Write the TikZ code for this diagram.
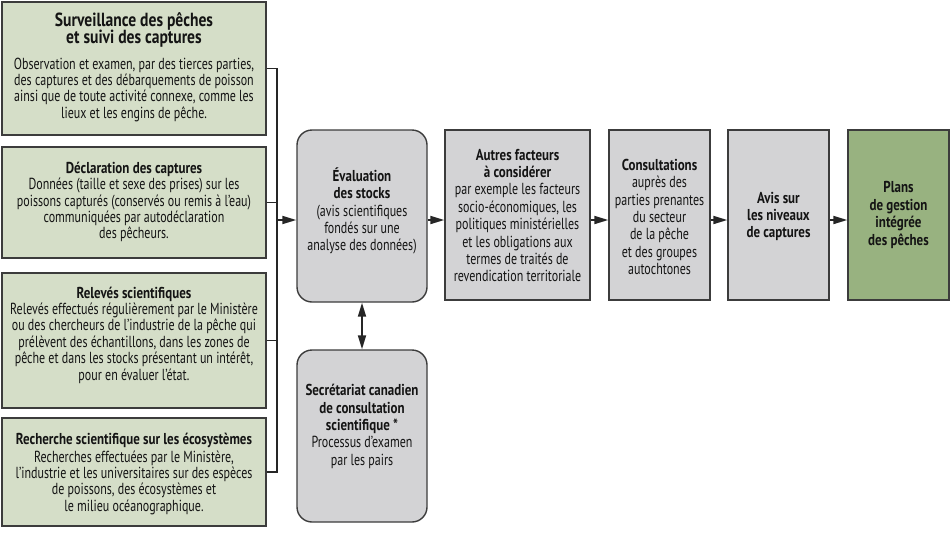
\documentclass[tikz,border=0pt]{standalone}
\usepackage{fontspec}
\setmainfont{PT Sans}[FakeStretch=0.75, BoldFeatures={FakeStretch=0.82}]
\usetikzlibrary{arrows.meta}
\definecolor{lgreen}{RGB}{213,222,200}
\definecolor{dgreen}{RGB}{152,178,128}
\definecolor{boxgray}{RGB}{211,211,213}
\definecolor{edge}{RGB}{60,60,60}
\definecolor{txt}{RGB}{20,20,20}
\newcommand{\ttlA}{\fontsize{19}{19}\selectfont\bfseries}
\newcommand{\ttlB}{\fontsize{15.8}{17.5}\selectfont\bfseries}
\begin{document}
\begin{tikzpicture}[x=1pt,y=-1pt,
  boxbase/.style={draw=edge, line width=1.4pt, inner sep=0pt},
  greenbox/.style={boxbase, fill=lgreen, minimum width=264},
  graybox/.style={boxbase, fill=boxgray},
  roundbox/.style={graybox, rounded corners=15pt, minimum width=130, minimum height=172},
  plainbox/.style={graybox, minimum height=170, minimum width=101},
  ltext/.style={align=center, inner sep=0pt, text=txt, font=\fontsize{16}{16.4}\selectfont},
  gtext/.style={align=center, inner sep=0pt, text=txt, font=\fontsize{16}{17.4}\selectfont},
  conn/.style={line width=1.8pt, draw=black!85},
  tip/.tip={Triangle[length=14pt,width=8pt]},
  arr/.style={conn, -tip},
  darr/.style={conn, tip-tip}]
\useasboundingbox (0,0) rectangle (950,539);

% boxes
\node[greenbox, minimum height=133] (b1) at (134,68.5) {};
\node[greenbox, minimum height=111] (b2) at (134,202.5) {};
\node[greenbox, minimum height=135] (b3) at (134,340.5) {};
\node[greenbox, minimum height=108] (b4) at (134,472) {};
\node[roundbox] (eval) at (362,216) {};
\node[roundbox] (sect) at (362,436) {};
\node[plainbox, minimum width=145] (autres) at (517.5,215) {};
\node[plainbox] (consult) at (659.5,215) {};
\node[plainbox] (avis) at (778.5,215) {};
\node[plainbox, fill=dgreen] (plans) at (898.5,215) {};

% texts
\node[ltext] (t1) at (134,67)
 {{\ttlA Surveillance des pêches}\\[-1pt]{\ttlA et suivi des captures}\\[9pt]
  Observation et examen, par des tierces parties,\\
  des captures et des débarquements de poisson\\
  ainsi que de toute activité connexe, comme les\\
  lieux et les engins de pêche.};
\node[ltext] (t2) at (134,202)
 {{\ttlB Déclaration des captures}\\
  Données (taille et sexe des prises) sur les\\
  poissons capturés (conservés ou remis à l’eau)\\
  communiquées par autodéclaration\\
  des pêcheurs.};
\node[ltext] (t3) at (134,335)
 {{\ttlB Relevés scientifiques}\\
  Relevés effectués régulièrement par le Ministère\\
  ou des chercheurs de l’industrie de la pêche qui\\
  prélèvent des échantillons, dans les zones de\\
  pêche et dans les stocks présentant un intérêt,\\
  pour en évaluer l’état.};
\node[ltext] (t4) at (134,474)
 {{\ttlB Recherche scientifique sur les écosystèmes}\\[1pt]
  Recherches effectuées par le Ministère,\\
  l’industrie et les universitaires sur des espèces\\
  de poissons, des écosystèmes et\\
  le milieu océanographique.};
\node[gtext] (te) at (362,211)
 {{\ttlB Évaluation}\\{\ttlB des stocks}\\
  (avis scientifiques\\fondés sur une\\analyse des données)};
\node[gtext] (ts) at (362,426.5)
 {{\ttlB Secrétariat canadien}\\{\ttlB de consultation}\\{\ttlB scientifique *}\\
  Processus d’examen\\par les pairs};
\node[gtext] (ta) at (517.5,215.5)
 {{\ttlB Autres facteurs}\\{\ttlB à considérer}\\
  par exemple les facteurs\\socio-économiques, les\\politiques ministérielles\\
  et les obligations aux\\termes de traités de\\revendication territoriale};
\node[gtext] (tc) at (659.5,217)
 {{\ttlB Consultations}\\auprès des\\parties prenantes\\du secteur\\de la pêche\\et des groupes\\autochtones};
\node[gtext] (tv) at (778.5,216.5)
 {{\ttlB Avis sur}\\{\ttlB les niveaux}\\{\ttlB de captures}};
\node[gtext] (tp) at (898.5,215)
 {{\ttlB Plans}\\{\ttlB de gestion}\\{\ttlB intégrée}\\{\ttlB des pêches}};

% connectors
\coordinate (j1) at (277,68.5);
\coordinate (j2) at (277,202.5);
\coordinate (j3) at (277,340.5);
\coordinate (j4) at (277,472);
\coordinate (jm) at (277,220);

\draw[conn] (b1.east) -- (j1) -- (j4) -- (b4.east);
\draw[conn] (b2.east) -- (j2);
\draw[conn] (b3.east) -- (j3);
\draw[arr] (jm) -- (jm -| eval.west);
\draw[arr] (eval.east |- jm) -- (jm -| autres.west);
\draw[arr] (autres.east |- jm) -- (jm -| consult.west);
\draw[arr] (consult.east |- jm) -- (jm -| avis.west);
\draw[arr] (avis.east |- jm) -- (jm -| plans.west);
\draw[darr] (eval.south) -- (sect.north);
\end{tikzpicture}
\end{document}
